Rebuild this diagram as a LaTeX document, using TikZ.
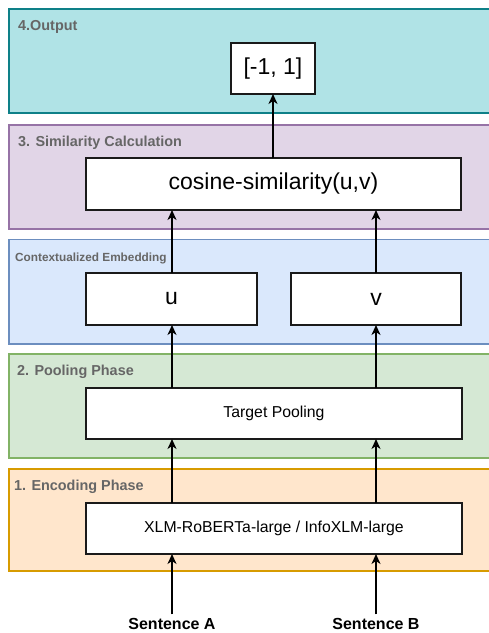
\documentclass[tikz,border=0pt]{standalone}
\usepackage{fontspec}
\setmainfont{Liberation Sans}
\usetikzlibrary{arrows.meta}

% layer colours
\definecolor{outFill}{HTML}{B0E3E6}\definecolor{outLine}{HTML}{0E8088}
\definecolor{simFill}{HTML}{E1D5E7}\definecolor{simLine}{HTML}{9673A6}
\definecolor{embFill}{HTML}{DAE8FC}\definecolor{embLine}{HTML}{6C8EBF}
\definecolor{poolFill}{HTML}{D5E8D4}\definecolor{poolLine}{HTML}{82B366}
\definecolor{encFill}{HTML}{FFE6CC}\definecolor{encLine}{HTML}{D79B00}
\definecolor{labelGray}{HTML}{666666}
\definecolor{boxLine}{HTML}{1A1A1A}

\begin{document}
\begin{tikzpicture}[x=1pt,y=-1pt,
  layer/.style={line width=1.3pt, minimum width=500pt, anchor=north west, inner sep=0pt, outer sep=0pt},
  layertitle/.style={anchor=base west, inner sep=0pt, text=labelGray, font=\bfseries\fontsize{14.4}{16}\selectfont},
  stagebox/.style={draw=boxLine, fill=white, line width=1.3pt, inner sep=0pt, outer sep=0pt},
  bigtext/.style={font=\fontsize{23}{26}\selectfont},
  smalltext/.style={font=\fontsize{15.8}{18}\selectfont},
  flow/.style={line width=2pt, -{Stealth[length=10pt,width=9pt,inset=3pt]}},
  sentence/.style={anchor=base, inner xsep=0pt, inner ysep=4pt, outer sep=0pt, font=\bfseries\fontsize{16}{18}\selectfont}
]
\useasboundingbox (0,0) rectangle (489,633);
\clip (0,0) rectangle (489,633);

% layers
\node[layer, fill=outFill,  draw=outLine,  minimum height=104pt]   (lOut)  at (9,9) {};
\node[layer, fill=simFill,  draw=simLine,  minimum height=104pt]   (lSim)  at (9,125) {};
\node[layer, fill=embFill,  draw=embLine,  minimum height=104.5pt] (lEmb)  at (9,239.5) {};
\node[layer, fill=poolFill, draw=poolLine, minimum height=104pt]   (lPool) at (9,354) {};
\node[layer, fill=encFill,  draw=encLine,  minimum height=102pt]   (lEnc)  at (9,469) {};

% layer titles
\node[layertitle] (tOut)  at (18,30.5)  {4.Output};
\node[layertitle] (tSim)  at (18,146.5) {3. Similarity Calculation};
\node[layertitle, font=\bfseries\fontsize{11.8}{14}\selectfont] (tEmb) at (15,261) {Contextualized Embedding};
\node[layertitle] (tPool) at (17,375.5) {2. Pooling Phase};
\node[layertitle] (tEnc)  at (14,490.5) {1. Encoding Phase};

% stage boxes
\node[stagebox, bigtext, minimum width=84pt,  minimum height=51pt] (res)  at (273,68.5)  {[-1, 1]};
\node[stagebox, bigtext, minimum width=375pt, minimum height=52pt] (cos)  at (273.5,184) {cosine-similarity(u,v)};
\node[stagebox, bigtext, minimum width=171pt, minimum height=52pt] (u)    at (171.5,299) {u};
\node[stagebox, bigtext, minimum width=170pt, minimum height=52pt] (v)    at (376,299)   {v};
\node[stagebox, smalltext, minimum width=376pt, minimum height=51pt] (pool) at (274,413.5) {Target Pooling};
\node[stagebox, smalltext, minimum width=376pt, minimum height=51pt] (enc)  at (274,528.5) {XLM-RoBERTa-large / InfoXLM-large};

% inputs
\node[sentence] (sa) at (172,629.5) {Sentence A};
\node[sentence] (sb) at (376,629.5) {Sentence B};

% connectors
\draw[flow] (sa.north) -- (sa.north |- enc.south);
\draw[flow] (sb.north) -- (sb.north |- enc.south);
\draw[flow] (sa.north |- enc.north) -- (sa.north |- pool.south);
\draw[flow] (sb.north |- enc.north) -- (sb.north |- pool.south);
\draw[flow] (sa.north |- pool.north) -- (sa.north |- u.south);
\draw[flow] (sb.north |- pool.north) -- (sb.north |- v.south);
\draw[flow] (sa.north |- u.north) -- (sa.north |- cos.south);
\draw[flow] (sb.north |- v.north) -- (sb.north |- cos.south);
\draw[flow] (res.south |- cos.north) -- (res.south);
\end{tikzpicture}
\end{document}
